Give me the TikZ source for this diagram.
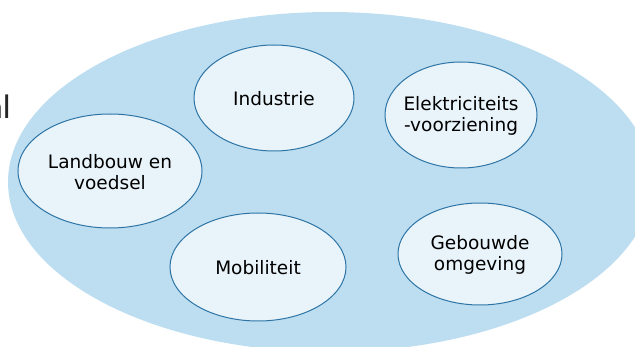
\documentclass[tikz,border=0pt]{standalone}
\usepackage{fontspec}
\setmainfont{DejaVu Sans}
\newfontfamily\slidefont{Carlito}
\definecolor{bigblue}{RGB}{189,222,240}
\definecolor{smallfill}{RGB}{232,243,250}
\definecolor{smallline}{RGB}{46,117,166}
\begin{document}
\begin{tikzpicture}[x=1pt,y=-1pt,
  topic/.style={draw=smallline, fill=smallfill, line width=1pt},
  lbl/.style={align=center, font=\fontsize{18.5}{21.5}\selectfont, text=black}]
\useasboundingbox (0,0) rectangle (635,347);
\begin{scope}
\clip (0,0) rectangle (635,347);
\fill[bigblue] (330,182) ellipse [x radius=322, y radius=170];
\node[anchor=base east, inner sep=0pt, font=\slidefont\fontsize{34}{40}\selectfont, text=black!85] (frag) at (11,119) {al};
\end{scope}
\draw[topic] (274,98) ellipse [x radius=80, y radius=53];
\node[lbl] (ind) at (274,99) {Industrie};
\draw[topic] (461,115) ellipse [x radius=76, y radius=53];
\node[lbl] (ele) at (461,116) {Elektriciteits\\-voorziening};
\draw[topic] (110,171) ellipse [x radius=92, y radius=57];
\node[lbl] (lan) at (110,172) {Landbouw en\\voedsel};
\draw[topic] (258,267) ellipse [x radius=88, y radius=54];
\node[lbl] (mob) at (258,268) {Mobiliteit};
\draw[topic] (480,254) ellipse [x radius=82, y radius=51];
\node[lbl] (geb) at (480,255) {Gebouwde\\omgeving};
\end{tikzpicture}
\end{document}
